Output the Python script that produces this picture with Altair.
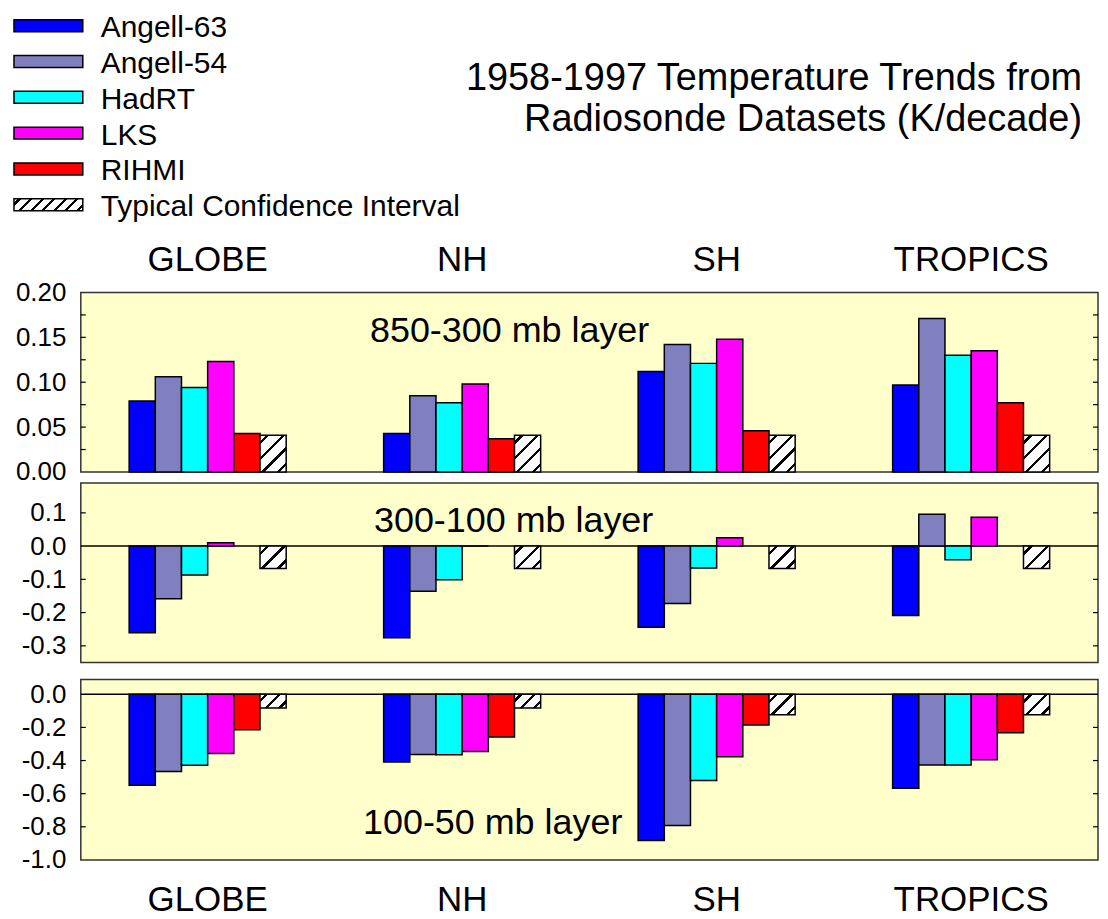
import math
import pandas as pd
import altair as alt

# ---------------- data ----------------
regions = ["GLOBE", "NH", "SH", "TROPICS"]
datasets = ["Angell-63", "Angell-54", "HadRT", "LKS", "RIHMI"]
ci_name = "Typical Confidence Interval"
colors = ["#0000FF", "#8080C0", "#00FFFF", "#FF00FF", "#FF0000"]

title_lines = ["1958-1997 Temperature Trends from", "Radiosonde Datasets (K/decade)"]
layer_names = ["850-300 mb layer", "300-100 mb layer", "100-50 mb layer"]

# 850-300 mb layer (K/decade), order: GLOBE, NH, SH, TROPICS
angell63_850 = [0.079, 0.043, 0.112, 0.097]
angell54_850 = [0.106, 0.085, 0.142, 0.171]
hadrt_850 = [0.094, 0.077, 0.121, 0.130]
lks_850 = [0.123, 0.098, 0.148, 0.135]
rihmi_850 = [0.043, 0.037, 0.046, 0.077]
ci_850 = [0.041, 0.041, 0.041, 0.041]

# 300-100 mb layer
angell63_300 = [-0.261, -0.276, -0.244, -0.209]
angell54_300 = [-0.158, -0.136, -0.173, 0.096]
hadrt_300 = [-0.087, -0.101, -0.066, -0.041]
lks_300 = [0.010, 0.0, 0.025, 0.087]
rihmi_300 = [None, None, None, None]
ci_300 = [-0.067, -0.067, -0.067, -0.067]

# 100-50 mb layer
angell63_100 = [-0.549, -0.409, -0.883, -0.567]
angell54_100 = [-0.466, -0.363, -0.792, -0.427]
hadrt_100 = [-0.429, -0.365, -0.520, -0.427]
lks_100 = [-0.357, -0.345, -0.377, -0.395]
rihmi_100 = [-0.214, -0.258, -0.185, -0.232]
ci_100 = [-0.083, -0.083, -0.123, -0.123]

# axis ticks
yticks_850 = [0.0, 0.05, 0.10, 0.15, 0.20]
minor_850 = [0.025, 0.05, 0.075, 0.10, 0.125, 0.15, 0.175]
yticks_300 = [0.1, 0.0, -0.1, -0.2, -0.3]
minor_300 = [0.1, -0.1, -0.2, -0.3]
yticks_100 = [0.0, -0.2, -0.4, -0.6, -0.8, -1.0]
minor_100 = [-0.2, -0.4, -0.6, -0.8]

# ---------------- style ----------------
FONT = "Liberation Sans"
W = 1020
PI, PO = 0.383, 0.19
BG = "#FFFFCC"
order = datasets + [ci_name]
STEP = W / (len(regions) - PI + 2 * PO)
BARW = STEP * (1 - PI) / len(order)
TOPPAD = 4


def long_df(lists):
    rows = []
    for name, vals in zip(order, lists):
        for r, v in zip(regions, vals):
            if v is not None:
                rows.append({"region": r, "series": name, "value": v})
    return pd.DataFrame(rows)


def hatch(w, h, period=10.0, lw=2.4):
    b = h / w
    k = (1 + b) / (1 + b * b)
    total = (w + h) / math.sqrt(2)
    n = max(1, int(round(total / period)))
    half = (lw / total) / 2
    stops = [alt.GradientStop(offset=0, color="white")]
    for i in range(n):
        c = (i + 0.5) / n
        lo, hi = max(0.0, c - half), min(1.0, c + half)
        stops += [
            alt.GradientStop(offset=lo, color="white"),
            alt.GradientStop(offset=lo, color="black"),
            alt.GradientStop(offset=hi, color="black"),
            alt.GradientStop(offset=hi, color="white"),
        ]
    stops.append(alt.GradientStop(offset=1, color="white"))
    return alt.LinearGradient(gradient="linear", stops=stops, x1=0, y1=0, x2=k, y2=k * b)


def yaxis(vals, fmt):
    return alt.Axis(
        values=vals,
        labelExpr="replace(format(datum.value, '%s'), '\u2212', '-')" % fmt,
        labelFont=FONT, labelFontSize=26, labelColor="black", labelPadding=15,
        ticks=False, tickSize=0, domain=False, grid=False, minExtent=72,
        labelOverlap=False, title=None,
    )


def xaxis(orient, pad):
    return alt.Axis(
        orient=orient, labelFont=FONT, labelFontSize=35, labelColor="black",
        labelPadding=pad, labelBaseline="alphabetic", labelAngle=0,
        ticks=False, tickSize=0, domain=False, labelOverlap=False, title=None,
    )


def panel(lists, domain, height, yvals, fmt, minor, label, lx, ly, xax, zero_line):
    df = long_df(lists)
    main = df[df.series != ci_name]
    ci = df[df.series == ci_name]
    ysc = alt.Scale(domain=domain, nice=False, zero=False)
    yax = yaxis(yvals, fmt)
    xenc = alt.X("region:N", sort=regions, title=None,
                 scale=alt.Scale(domain=regions, paddingInner=PI, paddingOuter=PO),
                 axis=xax)
    xoff = alt.XOffset("series:N", scale=alt.Scale(domain=order, paddingInner=0, paddingOuter=0))
    layers = []
    if zero_line:
        layers.append(
            alt.Chart(pd.DataFrame({"v": [0.0]})).mark_rule(color="black", strokeWidth=1.5)
            .encode(y=alt.Y("v:Q", scale=ysc, axis=yax, title=None))
        )
    layers.append(
        alt.Chart(main).mark_bar(stroke="black", strokeWidth=1.5).encode(
            x=xenc, xOffset=xoff,
            y=alt.Y("value:Q", scale=ysc, axis=yax, title=None),
            color=alt.Color("series:N", scale=alt.Scale(domain=datasets, range=colors), legend=None),
        )
    )
    px_per_unit = height / (domain[1] - domain[0])
    for v in sorted(set(ci["value"])):
        sub = ci[ci["value"] == v]
        layers.append(
            alt.Chart(sub).mark_bar(fill=hatch(BARW, abs(v) * px_per_unit), stroke="black", strokeWidth=1.5)
            .encode(x=xenc, xOffset=xoff, y=alt.Y("value:Q", scale=ysc, axis=yax, title=None))
        )
    tdf = pd.DataFrame({"v": minor})
    for xa, xb in ((0, 5), (W - 5, W)):
        layers.append(
            alt.Chart(tdf).mark_rule(color="black", strokeWidth=1.2).encode(
                y=alt.Y("v:Q", scale=ysc, axis=yax, title=None),
                x=alt.value(xa), x2=alt.value(xb),
            )
        )
    layers.append(
        alt.Chart(pd.DataFrame({"t": [label]})).mark_text(
            font=FONT, fontSize=36, align="center", baseline="alphabetic", color="black"
        ).encode(text="t:N", x=alt.value(lx), y=alt.value(ly))
    )
    return alt.layer(*layers).properties(
        width=W, height=height,
        view=alt.ViewBackground(fill=BG, stroke="#333333", strokeWidth=1.5),
    )


# ---------------- header: legend + title ----------------
leg_df = pd.DataFrame({"series": order})
yleg = alt.Y("series:N", sort=order, axis=None,
             scale=alt.Scale(domain=order, range=[-5.45, 209.95], paddingInner=0.666, paddingOuter=0.333))
swatches = alt.Chart(leg_df[leg_df.series != ci_name]).mark_rect(stroke="black", strokeWidth=1.5).encode(
    x=alt.value(-67), x2=alt.value(2), y=yleg,
    color=alt.Color("series:N", scale=alt.Scale(domain=datasets, range=colors), legend=None),
)
ci_swatch = alt.Chart(leg_df[leg_df.series == ci_name]).mark_rect(
    fill=hatch(69, 12, period=8.5, lw=2.2), stroke="black", strokeWidth=1.5
).encode(x=alt.value(-67), x2=alt.value(2), y=yleg)
leg_text = alt.Chart(leg_df).mark_text(
    align="left", baseline="middle", dy=2.5, font=FONT, fontSize=30, color="black"
).encode(x=alt.value(20), y=yleg, text="series:N")
title_mark = alt.Chart(pd.DataFrame({"a": [0]})).mark_text(
    align="right", baseline="alphabetic", font=FONT, fontSize=38, lineHeight=41, color="black"
).encode(x=alt.value(1004), y=alt.value(81 - TOPPAD), text=alt.value(title_lines))
header = alt.layer(swatches, ci_swatch, leg_text, title_mark).properties(width=W, height=284 - TOPPAD)


def spacer(h):
    return alt.Chart(pd.DataFrame({"a": [0]})).mark_point(opacity=0).encode(
        x=alt.value(0), y=alt.value(0)
    ).properties(width=W, height=h)


p1 = panel([angell63_850, angell54_850, hadrt_850, lks_850, rihmi_850, ci_850],
           [0.0, 0.2], 180, yticks_850, ".2f", minor_850, layer_names[0], 430, 50,
           xaxis("top", 22), False)
p2 = panel([angell63_300, angell54_300, hadrt_300, lks_300, rihmi_300, ci_300],
           [-0.35, 0.19], 180, yticks_300, ".1f", minor_300, layer_names[1], 434, 49,
           None, True)
p3 = panel([angell63_100, angell54_100, hadrt_100, lks_100, rihmi_100, ci_100],
           [-1.0, 0.09], 181, yticks_100, ".1f", minor_100, layer_names[2], 413, 155,
           xaxis("bottom", 51), True)

chart = alt.vconcat(header, p1, spacer(11), p2, spacer(17), p3, spacing=0, bounds="flush").properties(
    padding={"top": TOPPAD, "left": 0, "right": 0, "bottom": 0}
).configure_view(strokeWidth=0)

chart.save("out.html", embed_options={"renderer": "svg", "actions": False})
